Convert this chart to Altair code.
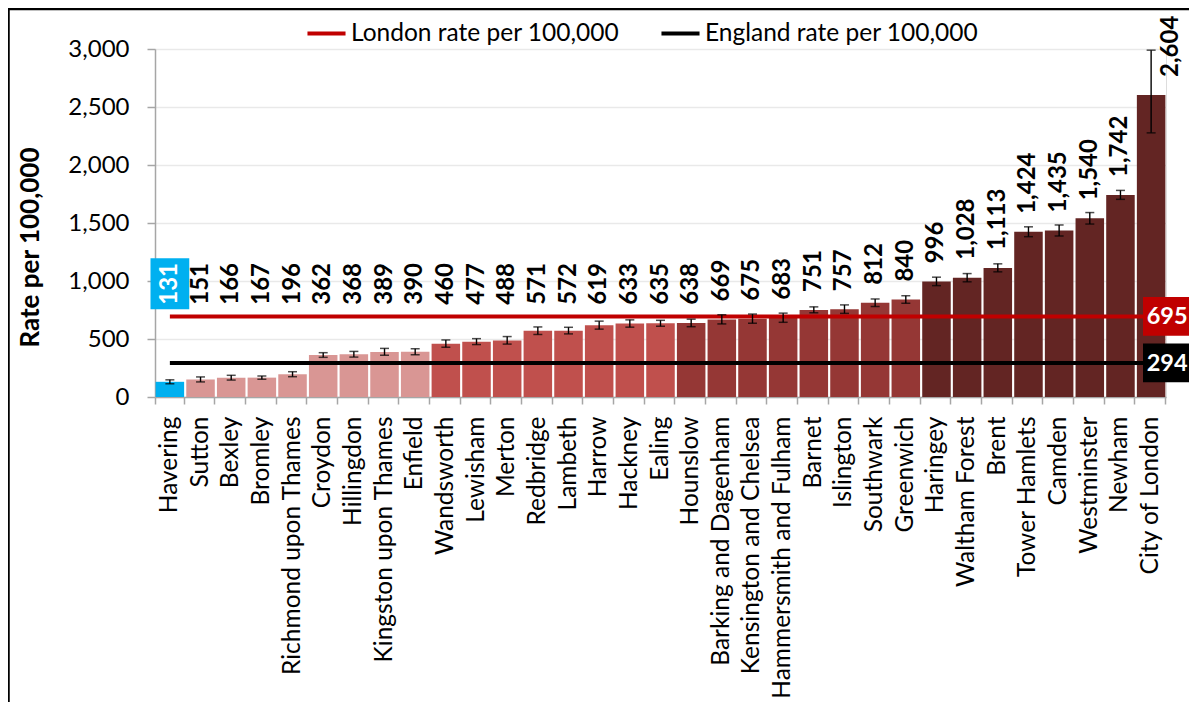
import altair as alt
import pandas as pd

boroughs = ["Havering", "Sutton", "Bexley", "Bromley", "Richmond upon Thames", "Croydon",
            "Hillingdon", "Kingston upon Thames", "Enfield", "Wandsworth", "Lewisham", "Merton",
            "Redbridge", "Lambeth", "Harrow", "Hackney", "Ealing", "Hounslow",
            "Barking and Dagenham", "Kensington and Chelsea", "Hammersmith and Fulham", "Barnet",
            "Islington", "Southwark", "Greenwich", "Haringey", "Waltham Forest", "Brent",
            "Tower Hamlets", "Camden", "Westminster", "Newham", "City of London"]
rates = [131, 151, 166, 167, 196, 362, 368, 389, 390, 460, 477, 488, 571, 572, 619, 633, 635,
         638, 669, 675, 683, 751, 757, 812, 840, 996, 1028, 1113, 1424, 1435, 1540, 1742, 2604]
ci_low = [114, 130, 146, 153, 175, 342, 344, 360, 365, 429, 452, 456, 539, 544, 585, 602, 610,
          606, 630, 636, 644, 726, 721, 780, 808, 960, 993, 1079, 1382, 1388, 1491, 1704, 2277]
ci_high = [148, 173, 187, 181, 218, 382, 393, 419, 416, 492, 503, 521, 604, 601, 654, 665, 661,
           671, 709, 715, 723, 777, 794, 845, 873, 1033, 1064, 1148, 1467, 1483, 1590, 1781, 2990]
groups = ["Havering"] + ["Q1"] * 8 + ["Q2"] * 8 + ["Q3"] * 8 + ["Q4"] * 8
london_rate = 695
england_rate = 294
series_names = ["London rate per 100,000", "England rate per 100,000"]
series_values = [london_rate, england_rate]
y_ticks = list(range(0, 3001, 250))

group_domain = ["Havering", "Q1", "Q2", "Q3", "Q4"]
group_colors = ["#00B0F0", "#D99694", "#C0504D", "#953735", "#632523"]
series_colors = ["#C00000", "#000000"]

FONT = "Lato"

df = pd.DataFrame({"borough": boroughs, "rate": rates, "lo": ci_low, "hi": ci_high,
                   "group": groups})
lines_df = pd.DataFrame([{"borough": b, "series": s, "value": v}
                         for s, v in zip(series_names, series_values) for b in boroughs])
endlab_df = pd.DataFrame({"borough": [boroughs[-1]] * 2, "series": series_names,
                          "value": series_values})

xenc = alt.X("borough:N", sort=boroughs,
             scale=alt.Scale(paddingInner=0.07, paddingOuter=0.02),
             axis=alt.Axis(title=None, labelAngle=270, labelFontSize=24.5, labelFont=FONT,
                           labelColor="black", tickSize=7, tickColor="#A6A6A6",
                           domainColor="#A6A6A6", domainWidth=1.5, tickWidth=1.5,
                           bandPosition=1, tickExtra=True, labelPadding=12, grid=False,
                           labelLimit=0))
yscale = alt.Scale(domain=[0, 3000], nice=False)

base = alt.Chart(df).encode(x=xenc)

bars = base.mark_bar().encode(
    y=alt.Y("rate:Q", scale=yscale,
            axis=alt.Axis(values=y_ticks, format=",d", tickSize=8, labelPadding=18,
                          labelFontSize=24, labelFont=FONT, labelColor="black",
                          tickColor="#A6A6A6", domainColor="#A6A6A6", domainWidth=1.5,
                          tickWidth=1.5, gridColor="#E9E9E9", gridWidth=1.5,
                          title="Rate per 100,000", titleFont=FONT, titleFontSize=26,
                          titleFontWeight="bold", titleColor="black", titleAngle=270,
                          titleX=-125, titleY=198, titleAlign="center",
                          titleBaseline="middle")),
    fill=alt.Fill("group:N", scale=alt.Scale(domain=group_domain, range=group_colors),
                  legend=None),
)

lines = alt.Chart(lines_df).mark_line(strokeWidth=4).encode(
    x=alt.X("borough:N", sort=boroughs),
    y=alt.Y("value:Q", scale=yscale),
    stroke=alt.Stroke("series:N", scale=alt.Scale(domain=series_names, range=series_colors),
                      legend=alt.Legend(orient="none", legendX=150, legendY=-37,
                                        direction="horizontal", title=None,
                                        symbolType="stroke", symbolSize=1450,
                                        symbolStrokeWidth=4, labelFontSize=24.5,
                                        labelFont=FONT, labelColor="black", labelOffset=3,
                                        labelLimit=0, columnPadding=33, padding=0)),
)

err = base.mark_rule(color="black", strokeWidth=1.4).encode(y="lo:Q", y2="hi:Q")
cap_lo = base.mark_tick(color="black", thickness=1.5, size=9).encode(y="lo:Q")
cap_hi = base.mark_tick(color="black", thickness=1.5, size=9).encode(y="hi:Q")

labels_base = base.transform_calculate(label_y="max(datum.rate, 640)")

hav_box = labels_base.transform_filter(alt.datum.group == "Havering").mark_point(
    shape="M-0.76,-1L0.76,-1L0.76,1L-0.76,1Z", filled=True, opacity=1,
    color="#00B0F0", size=2601, yOffset=-39).encode(y="label_y:Q")

# with angle=270, dx moves the text upward on screen and dy moves it right
label_enc = dict(
    y="label_y:Q",
    text=alt.Text("rate:Q", format=","),
    color=alt.condition(alt.datum.group == "Havering", alt.value("white"), alt.value("black")),
)
labels = labels_base.transform_filter(alt.datum.borough != boroughs[-1]).mark_text(
    angle=270, align="left", baseline="middle", dx=18,
    fontSize=24, fontWeight="bold", font=FONT).encode(**label_enc)
label_last = labels_base.transform_filter(alt.datum.borough == boroughs[-1]).mark_text(
    angle=270, align="left", baseline="middle", dx=18, dy=20,
    fontSize=24, fontWeight="bold", font=FONT).encode(**label_enc)

end_base = alt.Chart(endlab_df).encode(x=alt.X("borough:N", sort=boroughs),
                                       y=alt.Y("value:Q", scale=yscale))
end_box = end_base.mark_point(shape="M-1.25,-1L1.25,-1L1.25,1L-1.25,1Z", filled=True,
                              opacity=1, size=1490, xOffset=16).encode(
    color=alt.Color("series:N", scale=alt.Scale(domain=series_names, range=series_colors),
                    legend=None))
end_text = end_base.mark_text(fontSize=23.5, fontWeight="bold", font=FONT, color="white",
                              align="center", baseline="middle", dx=16, dy=1).encode(
    text=alt.Text("value:Q", format=","))

frame = alt.Chart(pd.DataFrame({"a": [0]})).mark_rect(
    fillOpacity=0, stroke="black", strokeWidth=2.5).encode(
    x=alt.value(-146.5), x2=alt.value(1100), y=alt.value(-40), y2=alt.value(720))

chart = alt.layer(frame, bars, lines, err, cap_lo, cap_hi, hav_box, labels, label_last,
                  end_box, end_text)\
    .resolve_scale(color="independent")\
    .properties(width=1011, height=348, autosize=alt.AutoSizeParams(type="none"),
                padding={"left": 147, "top": 41, "right": 23, "bottom": 305},
                background="white")\
    .configure_view(stroke=None)\
    .configure(font=FONT)

chart.save("out.html", embed_options={"renderer": "svg", "actions": False})
